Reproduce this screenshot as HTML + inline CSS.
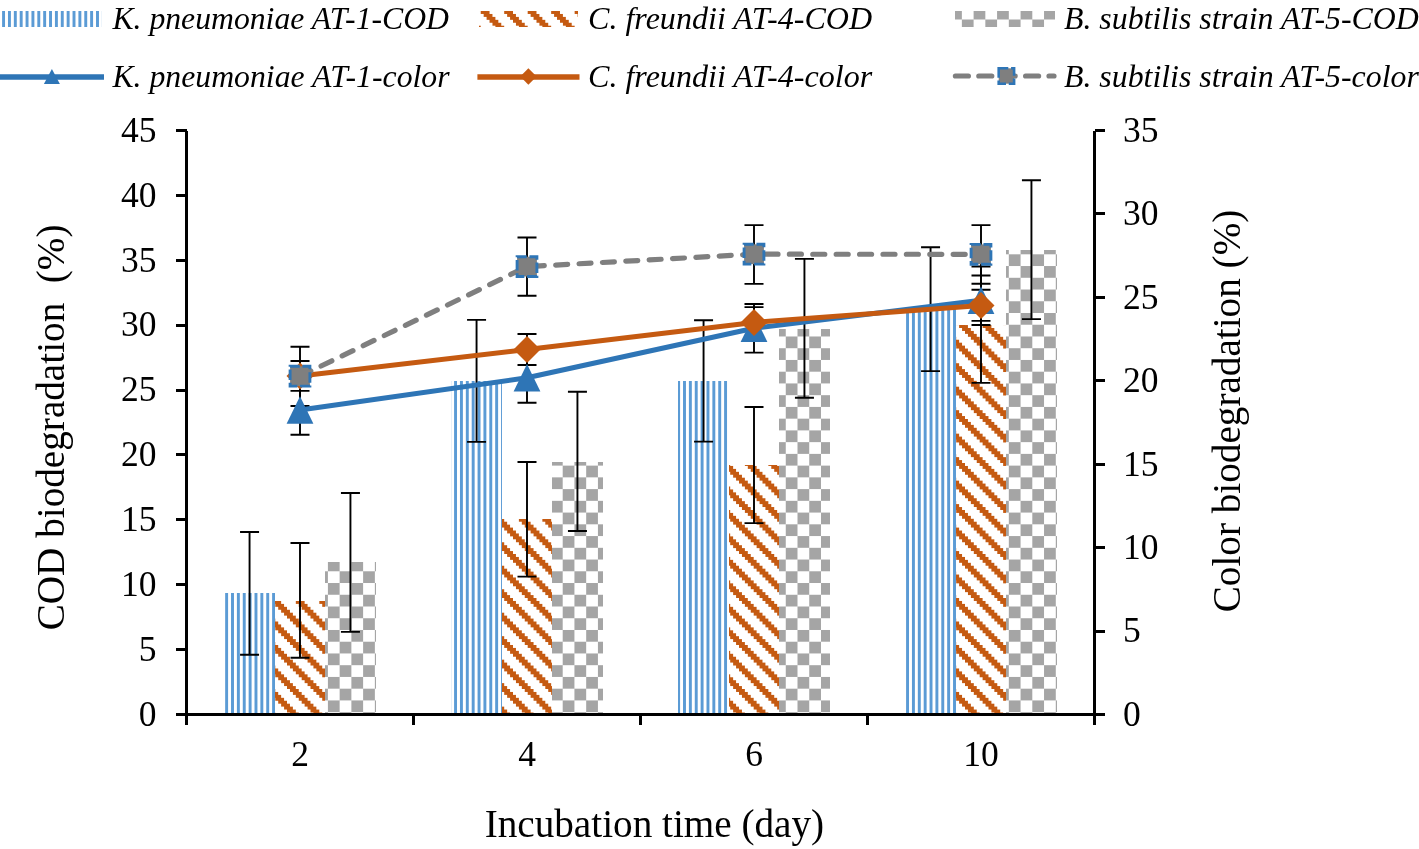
<!DOCTYPE html>
<html><head><meta charset="utf-8"><title>Chart</title>
<style>html,body{margin:0;padding:0;background:#fff;} svg{display:block;will-change:transform;}
text{font-family:"Liberation Serif", serif;}</style></head>
<body><svg width="1419" height="849" viewBox="0 0 1419 849">
<rect width="1419" height="849" fill="#fff"/>
<defs>
<pattern id="pv" patternUnits="userSpaceOnUse" x="2.1" y="0" width="5.8700" height="40"><rect x="0" y="0" width="2.9850" height="40" fill="#5B9BD5" shape-rendering="crispEdges"/></pattern>
<pattern id="pc" patternUnits="userSpaceOnUse" x="327.9" y="606.5" width="23.480" height="23.480"><rect x="0" y="0" width="11.740" height="11.740" fill="#A5A5A5" shape-rendering="crispEdges"/><rect x="11.740" y="11.740" width="11.740" height="11.740" fill="#A5A5A5" shape-rendering="crispEdges"/></pattern>
<pattern id="pd" patternUnits="userSpaceOnUse" x="965.000" y="495.300" width="23.480" height="23.480"><g fill="#C55A11" shape-rendering="crispEdges"><rect x="0.000" y="0.000" width="8.805" height="2.935"/><rect x="2.935" y="2.935" width="8.805" height="2.935"/><rect x="5.870" y="5.870" width="8.805" height="2.935"/><rect x="8.805" y="8.805" width="8.805" height="2.935"/><rect x="11.740" y="11.740" width="8.805" height="2.935"/><rect x="14.675" y="14.675" width="8.805" height="2.935"/><rect x="0.000" y="17.610" width="2.935" height="2.935"/><rect x="17.610" y="17.610" width="5.870" height="2.935"/><rect x="0.000" y="20.545" width="5.870" height="2.935"/><rect x="20.545" y="20.545" width="2.935" height="2.935"/></g></pattern>
</defs>
<rect x="224.33" y="593.20" width="50.44" height="121.30" fill="url(#pv)" shape-rendering="crispEdges"/>
<rect x="274.78" y="600.80" width="50.44" height="113.70" fill="url(#pd)" shape-rendering="crispEdges"/>
<rect x="325.22" y="562.30" width="50.44" height="152.20" fill="url(#pc)" shape-rendering="crispEdges"/>
<rect x="451.33" y="381.00" width="50.44" height="333.50" fill="url(#pv)" shape-rendering="crispEdges"/>
<rect x="501.78" y="519.20" width="50.44" height="195.30" fill="url(#pd)" shape-rendering="crispEdges"/>
<rect x="552.22" y="461.80" width="50.44" height="252.70" fill="url(#pc)" shape-rendering="crispEdges"/>
<rect x="678.33" y="381.00" width="50.44" height="333.50" fill="url(#pv)" shape-rendering="crispEdges"/>
<rect x="728.78" y="465.20" width="50.44" height="249.30" fill="url(#pd)" shape-rendering="crispEdges"/>
<rect x="779.22" y="328.60" width="50.44" height="385.90" fill="url(#pc)" shape-rendering="crispEdges"/>
<rect x="905.33" y="309.20" width="50.44" height="405.30" fill="url(#pv)" shape-rendering="crispEdges"/>
<rect x="955.78" y="324.60" width="50.44" height="389.90" fill="url(#pd)" shape-rendering="crispEdges"/>
<rect x="1006.22" y="249.50" width="50.44" height="465.00" fill="url(#pc)" shape-rendering="crispEdges"/>
<path d="M249.56,532.00V654.80M240.06,532.00H259.06M240.06,654.80H259.06" stroke="#000" stroke-width="1.9" fill="none"/>
<path d="M300.00,543.00V657.80M290.50,543.00H309.50M290.50,657.80H309.50" stroke="#000" stroke-width="1.9" fill="none"/>
<path d="M350.44,493.00V631.90M340.94,493.00H359.94M340.94,631.90H359.94" stroke="#000" stroke-width="1.9" fill="none"/>
<path d="M476.56,319.90V441.90M467.06,319.90H486.06M467.06,441.90H486.06" stroke="#000" stroke-width="1.9" fill="none"/>
<path d="M527.00,462.00V576.60M517.50,462.00H536.50M517.50,576.60H536.50" stroke="#000" stroke-width="1.9" fill="none"/>
<path d="M577.44,391.80V531.00M567.94,391.80H586.94M567.94,531.00H586.94" stroke="#000" stroke-width="1.9" fill="none"/>
<path d="M703.56,320.20V441.60M694.06,320.20H713.06M694.06,441.60H713.06" stroke="#000" stroke-width="1.9" fill="none"/>
<path d="M754.00,407.00V523.10M744.50,407.00H763.50M744.50,523.10H763.50" stroke="#000" stroke-width="1.9" fill="none"/>
<path d="M804.44,258.90V397.80M794.94,258.90H813.94M794.94,397.80H813.94" stroke="#000" stroke-width="1.9" fill="none"/>
<path d="M930.56,247.30V371.10M921.06,247.30H940.06M921.06,371.10H940.06" stroke="#000" stroke-width="1.9" fill="none"/>
<path d="M981.00,266.50V382.90M971.50,266.50H990.50M971.50,382.90H990.50" stroke="#000" stroke-width="1.9" fill="none"/>
<path d="M1031.44,180.20V319.10M1021.94,180.20H1040.94M1021.94,319.10H1040.94" stroke="#000" stroke-width="1.9" fill="none"/>
<path d="M300.00,385.40V434.80M290.50,385.40H309.50M290.50,434.80H309.50" stroke="#000" stroke-width="1.9" fill="none"/>
<path d="M300.00,361.00V390.90M290.50,361.00H309.50M290.50,390.90H309.50" stroke="#000" stroke-width="1.9" fill="none"/>
<path d="M300.00,346.80V406.00M290.50,346.80H309.50M290.50,406.00H309.50" stroke="#000" stroke-width="1.9" fill="none"/>
<path d="M527.00,351.60V402.80M517.50,351.60H536.50M517.50,402.80H536.50" stroke="#000" stroke-width="1.9" fill="none"/>
<path d="M527.00,334.00V365.00M517.50,334.00H536.50M517.50,365.00H536.50" stroke="#000" stroke-width="1.9" fill="none"/>
<path d="M527.00,237.50V295.80M517.50,237.50H536.50M517.50,295.80H536.50" stroke="#000" stroke-width="1.9" fill="none"/>
<path d="M754.00,304.00V352.60M744.50,304.00H763.50M744.50,352.60H763.50" stroke="#000" stroke-width="1.9" fill="none"/>
<path d="M754.00,307.10V337.60M744.50,307.10H763.50M744.50,337.60H763.50" stroke="#000" stroke-width="1.9" fill="none"/>
<path d="M754.00,225.10V283.90M744.50,225.10H763.50M744.50,283.90H763.50" stroke="#000" stroke-width="1.9" fill="none"/>
<path d="M981.00,275.50V325.00M971.50,275.50H990.50M971.50,325.00H990.50" stroke="#000" stroke-width="1.9" fill="none"/>
<path d="M981.00,289.80V320.90M971.50,289.80H990.50M971.50,320.90H990.50" stroke="#000" stroke-width="1.9" fill="none"/>
<path d="M981.00,225.10V283.70M971.50,225.10H990.50M971.50,283.70H990.50" stroke="#000" stroke-width="1.9" fill="none"/>
<g stroke="#000" stroke-width="3" fill="none" shape-rendering="crispEdges">
<path d="M186.5,130.5V725"/>
<path d="M1094.5,130.5V714.5"/>
<path d="M186.5,714.5H1094.5"/>
<path d="M176,714.50H186.5"/>
<path d="M176,649.61H186.5"/>
<path d="M176,584.72H186.5"/>
<path d="M176,519.83H186.5"/>
<path d="M176,454.94H186.5"/>
<path d="M176,390.06H186.5"/>
<path d="M176,325.17H186.5"/>
<path d="M176,260.28H186.5"/>
<path d="M176,195.39H186.5"/>
<path d="M176,130.50H186.5"/>
<path d="M1094.5,714.50H1105"/>
<path d="M1094.5,631.07H1105"/>
<path d="M1094.5,547.64H1105"/>
<path d="M1094.5,464.21H1105"/>
<path d="M1094.5,380.79H1105"/>
<path d="M1094.5,297.36H1105"/>
<path d="M1094.5,213.93H1105"/>
<path d="M1094.5,130.50H1105"/>
<path d="M186.50,714.5V725"/>
<path d="M413.50,714.5V725"/>
<path d="M640.50,714.5V725"/>
<path d="M867.50,714.5V725"/>
<path d="M1094.50,714.5V725"/>
</g>
<polyline points="300.00,410.10 527.00,377.80 754.00,328.20 981.00,300.25" stroke="#2E75B6" stroke-width="5.1" fill="none" stroke-linejoin="round" stroke-linecap="round"/>
<polyline points="300.00,375.90 527.00,349.60 754.00,322.40 981.00,305.50" stroke="#C55A11" stroke-width="5.0" fill="none" stroke-linejoin="round" stroke-linecap="round"/>
<polyline points="300.00,376.20 527.00,266.60 754.00,254.20 981.00,254.30" stroke="#7F7F7F" stroke-width="5.2" fill="none" stroke-dasharray="12 11.4" stroke-linecap="round"/>
<polygon points="300.00,396.35 313.40,423.85 286.60,423.85" fill="#2E75B6"/>
<polygon points="527.00,364.05 540.40,391.55 513.60,391.55" fill="#2E75B6"/>
<polygon points="754.00,314.45 767.40,341.95 740.60,341.95" fill="#2E75B6"/>
<polygon points="981.00,286.50 994.40,314.00 967.60,314.00" fill="#2E75B6"/>
<polygon points="300.00,362.40 313.50,375.90 300.00,389.40 286.50,375.90" fill="#C55A11"/>
<polygon points="527.00,336.10 540.50,349.60 527.00,363.10 513.50,349.60" fill="#C55A11"/>
<polygon points="754.00,308.90 767.50,322.40 754.00,335.90 740.50,322.40" fill="#C55A11"/>
<polygon points="981.00,292.00 994.50,305.50 981.00,319.00 967.50,305.50" fill="#C55A11"/>
<rect x="290.10" y="366.30" width="19.80" height="19.80" fill="#7F7F7F" stroke="#2E75B6" stroke-width="2.9" stroke-dasharray="10.5 2.77" stroke-dashoffset="0.9"/>
<rect x="517.10" y="256.70" width="19.80" height="19.80" fill="#7F7F7F" stroke="#2E75B6" stroke-width="2.9" stroke-dasharray="10.5 2.77" stroke-dashoffset="0.9"/>
<rect x="744.10" y="244.30" width="19.80" height="19.80" fill="#7F7F7F" stroke="#2E75B6" stroke-width="2.9" stroke-dasharray="10.5 2.77" stroke-dashoffset="0.9"/>
<rect x="971.10" y="244.40" width="19.80" height="19.80" fill="#7F7F7F" stroke="#2E75B6" stroke-width="2.9" stroke-dasharray="10.5 2.77" stroke-dashoffset="0.9"/>
<g font-family="Liberation Serif" font-size="35.5" fill="#000">
<text x="156.5" y="725.80" text-anchor="end">0</text>
<text x="156.5" y="660.91" text-anchor="end">5</text>
<text x="156.5" y="596.02" text-anchor="end">10</text>
<text x="156.5" y="531.13" text-anchor="end">15</text>
<text x="156.5" y="466.24" text-anchor="end">20</text>
<text x="156.5" y="401.36" text-anchor="end">25</text>
<text x="156.5" y="336.47" text-anchor="end">30</text>
<text x="156.5" y="271.58" text-anchor="end">35</text>
<text x="156.5" y="206.69" text-anchor="end">40</text>
<text x="156.5" y="141.80" text-anchor="end">45</text>
<text x="1123" y="725.80">0</text>
<text x="1123" y="642.37">5</text>
<text x="1123" y="558.94">10</text>
<text x="1123" y="475.51">15</text>
<text x="1123" y="392.09">20</text>
<text x="1123" y="308.66">25</text>
<text x="1123" y="225.23">30</text>
<text x="1123" y="141.80">35</text>
<text x="300.00" y="766.4" text-anchor="middle">2</text>
<text x="527.00" y="766.4" text-anchor="middle">4</text>
<text x="754.00" y="766.4" text-anchor="middle">6</text>
<text x="981.00" y="766.4" text-anchor="middle">10</text>
</g>
<g font-family="Liberation Serif" font-size="39.2" fill="#000">
<text x="654.4" y="836.7" text-anchor="middle">Incubation time (day)</text>
<text transform="translate(63.6,427.4) rotate(-90)" text-anchor="middle" xml:space="preserve">COD biodegradation  (%)</text>
<text transform="translate(1240,411) rotate(-90)" text-anchor="middle">Color biodegradation (%)</text>
</g>
<rect x="2" y="11.2" width="100" height="15.7" fill="url(#pv)" shape-rendering="crispEdges"/>
<rect x="479" y="11.2" width="99" height="15.4" fill="url(#pd)" shape-rendering="crispEdges"/>
<rect x="955.2" y="11.05" width="99.7" height="15.85" fill="url(#pc)" shape-rendering="crispEdges"/>
<path d="M0,77H104" stroke="#2E75B6" stroke-width="5.5"/>
<polygon points="51.90,68.90 59.90,83.90 43.90,83.90" fill="#2E75B6"/>
<path d="M477.4,77H579.5" stroke="#C55A11" stroke-width="5.3"/>
<polygon points="528.40,68.30 536.60,76.50 528.40,84.70 520.20,76.50" fill="#C55A11"/>
<path d="M955.4,76H1054" stroke="#7F7F7F" stroke-width="5.2" stroke-dasharray="13 10.4" stroke-linecap="round"/>
<rect x="998.70" y="68.30" width="15.40" height="15.40" fill="#7F7F7F" stroke="#2E75B6" stroke-width="2.6" stroke-dasharray="10.5 2.77" stroke-dashoffset="0.9"/>
<g font-family="Liberation Serif" font-style="italic" font-size="32.5" fill="#000">
<text x="112.4" y="29.2" textLength="336.6" lengthAdjust="spacingAndGlyphs">K. pneumoniae AT-1-COD</text>
<text x="588" y="29.2" textLength="284.2" lengthAdjust="spacingAndGlyphs">C. freundii AT-4-COD</text>
<text x="1064" y="29.2" textLength="354.8" lengthAdjust="spacingAndGlyphs">B. subtilis strain AT-5-COD</text>
<text x="112.4" y="87.4" textLength="337.2" lengthAdjust="spacingAndGlyphs">K. pneumoniae AT-1-color</text>
<text x="588" y="87.4" textLength="284.2" lengthAdjust="spacingAndGlyphs">C. freundii AT-4-color</text>
<text x="1064" y="87.4" textLength="354.8" lengthAdjust="spacingAndGlyphs">B. subtilis strain AT-5-color</text>
</g>
</svg></body></html>
